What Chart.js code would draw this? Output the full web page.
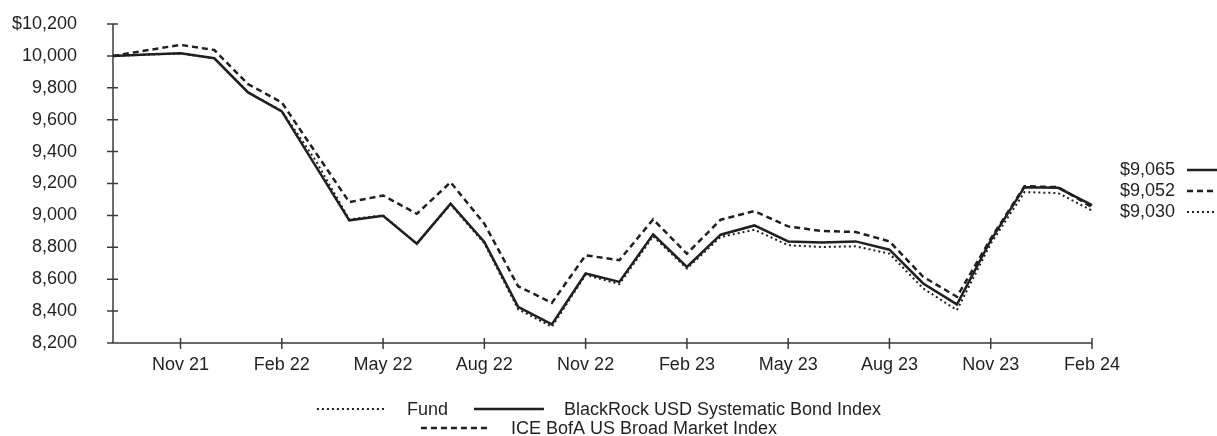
<!DOCTYPE html>
<html>
<head>
<meta charset="utf-8">
<script src="https://cdn.jsdelivr.net/npm/chart.js@4.4.1/dist/chart.umd.min.js"></script>
<style>
  html, body { margin: 0; padding: 0; background: #fff; }
</style>
</head>
<body>
<canvas id="growthChart" width="1217" height="436"></canvas>
<script>
const months = [
    'Sep 21', 'Oct 21', 'Nov 21', 'Dec 21', 'Jan 22', 'Feb 22', 'Mar 22', 'Apr 22', 'May 22', 'Jun 22',
    'Jul 22', 'Aug 22', 'Sep 22', 'Oct 22', 'Nov 22', 'Dec 22', 'Jan 23', 'Feb 23', 'Mar 23', 'Apr 23',
    'May 23', 'Jun 23', 'Jul 23', 'Aug 23', 'Sep 23', 'Oct 23', 'Nov 23', 'Dec 23', 'Jan 24', 'Feb 24'
];
const xTickLabels = ['Nov 21', 'Feb 22', 'May 22', 'Aug 22', 'Nov 22', 'Feb 23', 'May 23', 'Aug 23', 'Nov 23', 'Feb 24'];

const fundValues = [
    10000, 10008, 10015, 9985, 9772, 9655, 9345, 8975, 9000, 8822,
    9068, 8825, 8412, 8302, 8627, 8569, 8869, 8667, 8865, 8910,
    8813, 8802, 8806, 8760, 8542, 8406, 8823, 9146, 9140, 9030
];
const indexValues = [
    10000, 10008, 10017, 9985, 9771, 9652, 9311, 8969, 8997, 8823,
    9073, 8833, 8427, 8317, 8636, 8583, 8881, 8677, 8879, 8937,
    8837, 8830, 8837, 8785, 8573, 8442, 8844, 9177, 9173, 9065
];
const broadValues = [
    10000, 10035, 10069, 10037, 9823, 9708, 9395, 9083, 9125, 9010,
    9208, 8948, 8556, 8452, 8750, 8719, 8975, 8760, 8973, 9027,
    8931, 8902, 8896, 8837, 8615, 8490, 8854, 9183, 9177, 9052
];

const seriesNames = ['Fund', 'BlackRock USD Systematic Bond Index', 'ICE BofA US Broad Market Index'];
const endingLabels = ['$9,065', '$9,052', '$9,030'];

const ink = '#231f20';
const font = '18px "Liberation Sans", Arial, sans-serif';
const dotted = [2, 3];
const dashed = [6, 4];

// draws axis lines with ticks crossing them
const axisPlugin = {
    id: 'axisLines',
    beforeDatasetsDraw(chart) {
        const { ctx, chartArea: a, scales: { x, y } } = chart;
        ctx.save();
        ctx.strokeStyle = '#3a3a3a';
        ctx.lineWidth = 1.5;
        ctx.beginPath();
        ctx.moveTo(a.left, a.top);
        ctx.lineTo(a.left, a.bottom);
        ctx.lineTo(a.right, a.bottom);
        y.ticks.forEach(t => {
            const py = y.getPixelForValue(t.value);
            ctx.moveTo(a.left - 6, py);
            ctx.lineTo(a.left + 5, py);
        });
        months.forEach((m, i) => {
            if (!xTickLabels.includes(m)) return;
            const px = x.getPixelForValue(i);
            ctx.moveTo(px, a.bottom - 5);
            ctx.lineTo(px, a.bottom + 6);
        });
        ctx.stroke();
        ctx.restore();
    }
};

function strokeSample(ctx, x1, x2, yy, dash, width) {
    ctx.beginPath();
    ctx.setLineDash(dash);
    ctx.lineWidth = width;
    ctx.moveTo(x1, yy);
    ctx.lineTo(x2, yy);
    ctx.stroke();
}

// ending values on the right and the legend underneath
const labelPlugin = {
    id: 'labels',
    afterDraw(chart) {
        const ctx = chart.ctx;
        ctx.save();
        ctx.font = font;
        ctx.fillStyle = ink;
        ctx.strokeStyle = ink;
        ctx.textBaseline = 'middle';

        const styles = [[[], 2.5], [dashed, 2.5], [dotted, 2]];
        const rowsY = [170, 191, 212];
        ctx.textAlign = 'right';
        endingLabels.forEach((t, i) => {
            ctx.fillText(t, 1175, rowsY[i]);
            strokeSample(ctx, 1187, 1217, rowsY[i], styles[i][0], styles[i][1]);
        });

        ctx.textAlign = 'left';
        const lineLen = 70, gap = 20, between = 26;
        const rows = [
            [[seriesNames[0], dotted, 2], [seriesNames[1], [], 2.5]],
            [[seriesNames[2], dashed, 2.5]]
        ];
        const rowY = [409, 428];
        rows.forEach((items, r) => {
            let total = 0;
            items.forEach((it, k) => {
                total += lineLen + gap + ctx.measureText(it[0]).width + (k ? between : 0);
            });
            let cx = 599 - total / 2;
            items.forEach(it => {
                strokeSample(ctx, cx, cx + lineLen, rowY[r], it[1], it[2]);
                cx += lineLen + gap;
                ctx.fillText(it[0], cx, rowY[r] + 1);
                cx += ctx.measureText(it[0]).width + between;
            });
        });
        ctx.restore();
    }
};

new Chart(document.getElementById('growthChart'), {
    type: 'line',
    data: {
        labels: months,
        datasets: [
            {
                label: seriesNames[1],
                data: indexValues,
                borderColor: ink,
                borderWidth: 2.5,
                order: 0
            },
            {
                label: seriesNames[2],
                data: broadValues,
                borderColor: ink,
                borderWidth: 2.5,
                borderDash: dashed,
                order: 1
            },
            {
                label: seriesNames[0],
                data: fundValues,
                borderColor: ink,
                borderWidth: 2,
                borderDash: dotted,
                order: 2
            }
        ]
    },
    options: {
        responsive: false,
        animation: false,
        devicePixelRatio: 1,
        layout: { padding: { top: 24, right: 125, left: 0, bottom: 0 } },
        elements: { point: { radius: 0 }, line: { tension: 0, borderCapStyle: 'butt' } },
        plugins: { legend: { display: false }, tooltip: { enabled: false } },
        scales: {
            x: {
                offset: false,
                grid: { display: false, drawTicks: false },
                border: { display: false },
                afterFit: s => { s.height = 93; },
                ticks: {
                    autoSkip: false,
                    maxRotation: 0,
                    padding: 11,
                    color: ink,
                    font: { family: '"Liberation Sans", Arial, sans-serif', size: 18 },
                    callback: (v, i) => xTickLabels.includes(months[i]) ? months[i] : ''
                }
            },
            y: {
                min: 8200,
                max: 10200,
                grid: { display: false, drawTicks: false },
                border: { display: false },
                afterFit: s => {
                    s.width = 113;
                    s.paddingTop = 0;
                    s.paddingBottom = 0;
                },
                ticks: {
                    stepSize: 200,
                    padding: 36,
                    color: ink,
                    font: { family: '"Liberation Sans", Arial, sans-serif', size: 18 },
                    callback: v => (v === 10200 ? '$' : '') + v.toLocaleString('en-US')
                }
            }
        }
    },
    plugins: [axisPlugin, labelPlugin]
});
</script>
</body>
</html>
